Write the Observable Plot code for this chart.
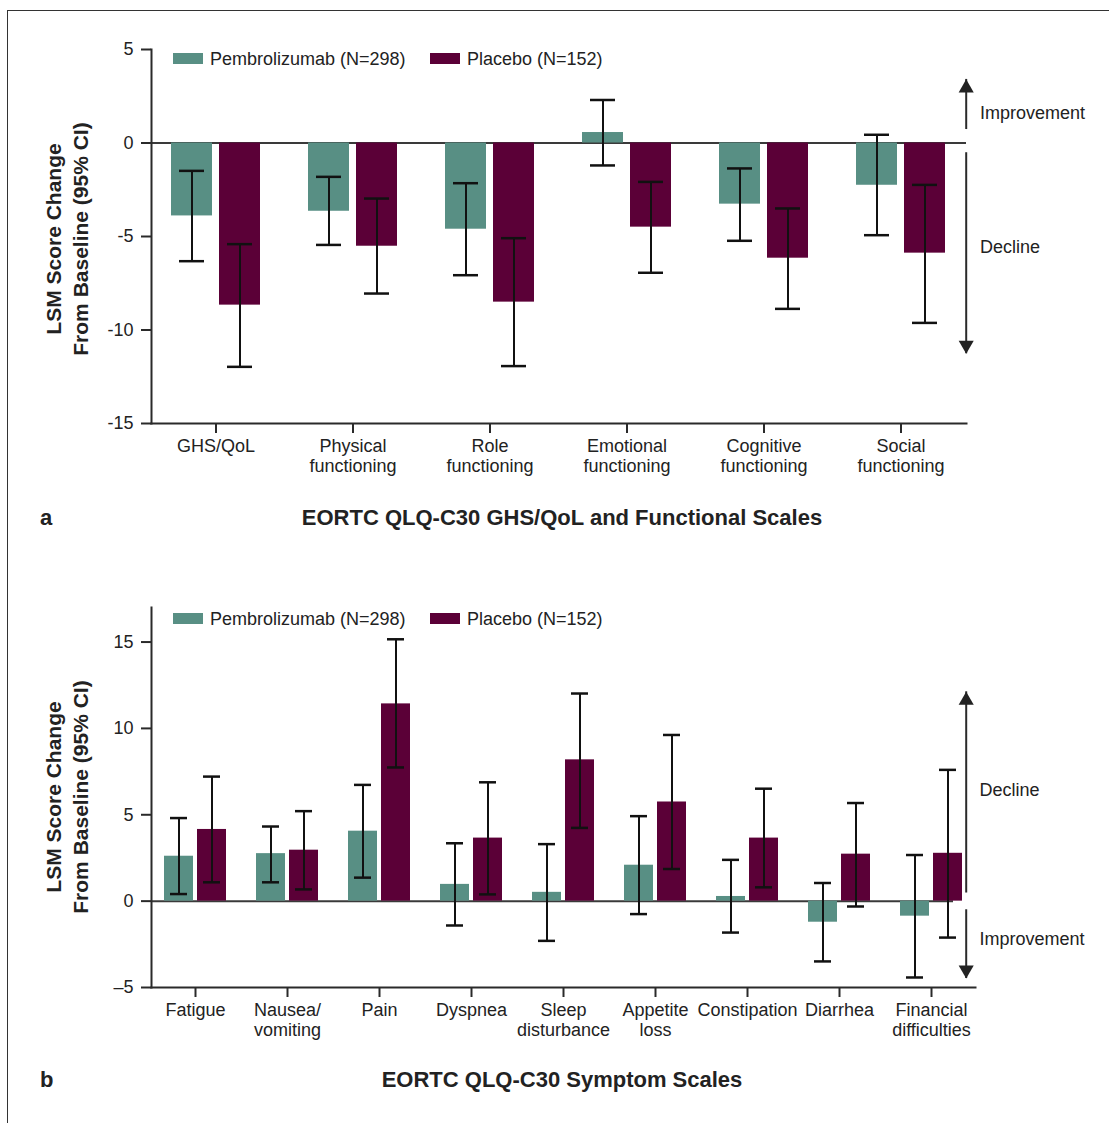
<!DOCTYPE html>
<html>
<head>
<meta charset="utf-8">
<script src="https://cdn.jsdelivr.net/npm/d3@7"></script>
<script src="https://cdn.jsdelivr.net/npm/@observablehq/plot@0.6"></script>
<style>
  html, body { margin: 0; padding: 0; background: #fff; }
  body { width: 1109px; height: 1123px; overflow: hidden; position: relative; font-family: "Liberation Sans", Arial, Helvetica, sans-serif; color: #222; }
  .abs { position: absolute; }
  .frame { left: 7px; top: 10px; width: 1200px; height: 1300px; border-left: 1.5px solid #333; border-top: 1.5px solid #333; }
  .sw { position: absolute; width: 30px; height: 11px; }
  .lg { position: absolute; font-size: 18px; line-height: 20px; white-space: nowrap; }
  .ylab { position: absolute; font-weight: bold; font-size: 21px; line-height: 27px; text-align: center; white-space: nowrap; transform: translate(-50%, -50%) rotate(-90deg); }
  .ttl { position: absolute; font-weight: bold; font-size: 22px; line-height: 24px; white-space: nowrap; }
</style>
</head>
<body>
<div class="abs frame"></div>
<div id="pa" class="abs" style="left:0;top:0"></div>
<div id="pb" class="abs" style="left:0;top:560px"></div>
<script>
// ---------- Data ----------
const seriesNames = ["Pembrolizumab (N=298)", "Placebo (N=152)"];
const colors = ["#588f84", "#5b0037"];

// Panel a: GHS/QoL and functional scales
const catsA = ["GHS/QoL", "Physical\nfunctioning", "Role\nfunctioning", "Emotional\nfunctioning", "Cognitive\nfunctioning", "Social\nfunctioning"];
const pembroA   = [-3.90, -3.65, -4.61, 0.56, -3.27, -2.26];
const pembroALo = [-6.32, -5.45, -7.07, -1.20, -5.23, -4.93];
const pembroAHi = [-1.49, -1.81, -2.15, 2.30, -1.36, 0.44];
const placeboA   = [-8.67, -5.52, -8.51, -4.50, -6.16, -5.89];
const placeboALo = [-11.97, -8.05, -11.93, -6.94, -8.87, -9.62];
const placeboAHi = [-5.41, -2.97, -5.09, -2.08, -3.50, -2.24];
const yTicksA = [-15, -10, -5, 0, 5];
const arrowFromA = [0.72, -0.52];
const arrowTipA = [3.40, -11.27];
const noteLabelsA = ["Improvement", "Decline"];
const noteYA = [1.58, -5.59];

// Panel b: symptom scales
const catsB = ["Fatigue", "Nausea/\nvomiting", "Pain", "Dyspnea", "Sleep\ndisturbance", "Appetite\nloss", "Constipation", "Diarrhea", "Financial\ndifficulties"];
const pembroB   = [2.60, 2.75, 4.05, 0.97, 0.51, 2.08, 0.27, -1.22, -0.87];
const pembroBLo = [0.41, 1.09, 1.36, -1.41, -2.30, -0.75, -1.82, -3.49, -4.42];
const pembroBHi = [4.81, 4.32, 6.73, 3.35, 3.30, 4.92, 2.39, 1.05, 2.67];
const placeboB   = [4.15, 2.95, 11.42, 3.65, 8.18, 5.74, 3.65, 2.72, 2.77];
const placeboBLo = [1.09, 0.68, 7.74, 0.39, 4.24, 1.86, 0.80, -0.31, -2.11];
const placeboBHi = [7.21, 5.21, 15.16, 6.88, 12.02, 9.62, 6.51, 5.68, 7.60];
const yTicksB = [-5, 0, 5, 10, 15];
const arrowFromB = [0.47, -0.50];
const arrowTipB = [12.12, -4.48];
const noteLabelsB = ["Decline", "Improvement"];
const noteYB = [6.40, -2.19];

const titles = ["EORTC QLQ-C30 GHS/QoL and Functional Scales", "EORTC QLQ-C30 Symptom Scales"];
const panelLetters = ["a", "b"];
const yLabelLines = ["LSM Score Change", "From Baseline (95% CI)"];

// ---------- Helpers ----------
function rows(cats, v, lo, hi) {
  return cats.map((c, i) => ({cat: c, v: v[i], lo: lo[i], hi: hi[i]}));
}

function panel(o) {
  const pem = rows(o.cats, o.pem, o.pemLo, o.pemHi);
  const pla = rows(o.cats, o.pla, o.plaLo, o.plaHi);
  const last = o.cats[o.cats.length - 1];
  const up = [0], down = [1];
  const ink = "#111";
  return Plot.plot({
    width: 1109,
    height: 490,
    marginTop: o.marginTop,
    marginBottom: o.marginBottom,
    marginLeft: 151,
    marginRight: o.marginRight,
    style: {fontFamily: '"Liberation Sans", Arial, Helvetica, sans-serif', fontSize: "18px", color: "#2a2a2a", background: "transparent", overflow: "visible"},
    x: {domain: o.cats, range: o.xRange, padding: 0, label: null},
    y: {domain: o.yDomain, label: null},
    marks: [
      Plot.ruleY([0], {stroke: "#3a3a3a", strokeWidth: 2, insetRight: o.zeroInsetRight}),
      Plot.barY(pem, {x: "cat", y1: 0, y2: "v", fill: colors[0], insetLeft: o.barIn[0], insetRight: o.barIn[1]}),
      Plot.barY(pla, {x: "cat", y1: 0, y2: "v", fill: colors[1], insetLeft: o.barIn[1], insetRight: o.barIn[0]}),
      Plot.ruleX(pem, {x: "cat", y1: "lo", y2: "hi", dx: -o.off, stroke: ink, strokeWidth: 2}),
      Plot.ruleX(pla, {x: "cat", y1: "lo", y2: "hi", dx: o.off, stroke: ink, strokeWidth: 2}),
      Plot.tickY(pem, {x: "cat", y: "lo", insetLeft: o.capIn[0], insetRight: o.capIn[1], stroke: ink, strokeWidth: 2.5}),
      Plot.tickY(pem, {x: "cat", y: "hi", insetLeft: o.capIn[0], insetRight: o.capIn[1], stroke: ink, strokeWidth: 2.5}),
      Plot.tickY(pla, {x: "cat", y: "lo", insetLeft: o.capIn[1], insetRight: o.capIn[0], stroke: ink, strokeWidth: 2.5}),
      Plot.tickY(pla, {x: "cat", y: "hi", insetLeft: o.capIn[1], insetRight: o.capIn[0], stroke: ink, strokeWidth: 2.5}),
      Plot.frame({anchor: "left", stroke: "#2a2a2a", strokeWidth: 2}),
      Plot.frame({anchor: "bottom", stroke: "#2a2a2a", strokeWidth: 2}),
      Plot.axisY({ticks: o.yTicks, tickSize: 10, tickPadding: 8, tickFormat: o.tickFormat, strokeWidth: 2, fill: "#222"}),
      Plot.axisX({tickSize: 10, tickPadding: 4, lineHeight: 1.12, strokeWidth: 2, fill: "#222"}),
      // direction arrows
      Plot.ruleX(up, {x: () => last, y1: i => o.arrowFrom[i], y2: i => o.arrowTip[i], dx: o.arrowDx, stroke: "#2a2a2a", strokeWidth: 2}),
      Plot.ruleX(down, {x: () => last, y1: i => o.arrowFrom[i], y2: i => o.arrowTip[i], dx: o.arrowDx, stroke: "#2a2a2a", strokeWidth: 2}),
      Plot.dot(up, {x: () => last, y: i => o.arrowTip[i], dx: o.arrowDx, dy: 8.66, symbol: "triangle", r: 5.6, fill: "#222", stroke: null}),
      Plot.dot(down, {x: () => last, y: i => o.arrowTip[i], dx: o.arrowDx, dy: -8.66, rotate: 180, symbol: "triangle", r: 5.6, fill: "#222", stroke: null}),
      Plot.text(o.noteLabels, {x: () => last, y: (d, i) => o.noteY[i], text: d => d, dx: o.noteDx, textAnchor: "start", fontSize: 18, fill: "#222"})
    ]
  });
}

document.getElementById("pa").append(panel({
  cats: catsA, pem: pembroA, pemLo: pembroALo, pemHi: pembroAHi,
  pla: placeboA, plaLo: placeboALo, plaHi: placeboAHi,
  yDomain: [-15, 5], yTicks: yTicksA, tickFormat: d => String(d),
  marginTop: 49, marginBottom: 67, marginRight: 143, xRange: [147, 969],
  barIn: [24, 72], capIn: [32, 80], off: 24, zeroInsetRight: 0,
  arrowFrom: arrowFromA, arrowTip: arrowTipA, arrowDx: 65.2,
  noteLabels: noteLabelsA, noteY: noteYA, noteDx: 79
}));

document.getElementById("pb").append(panel({
  cats: catsB, pem: pembroB, pemLo: pembroBLo, pemHi: pembroBHi,
  pla: placeboB, plaLo: placeboBLo, plaHi: placeboBHi,
  yDomain: [-5, 17], yTicks: yTicksB, tickFormat: d => (d < 0 ? "\u2013" + Math.abs(d) : String(d)),
  marginTop: 47, marginBottom: 63, marginRight: 134, xRange: [148, 977],
  barIn: [15, 48], capIn: [21, 54], off: 16.5, zeroInsetRight: 22,
  arrowFrom: arrowFromB, arrowTip: arrowTipB, arrowDx: 34.7,
  noteLabels: noteLabelsB, noteY: noteYB, noteDx: 48
}));

// ---------- HTML overlays: legends, y labels, titles ----------
function addLegend(top) {
  const lefts = [[173, 210], [430, 467]];
  seriesNames.forEach((name, i) => {
    const sw = document.createElement("div");
    sw.className = "sw";
    sw.style.left = lefts[i][0] + "px";
    sw.style.top = (top + 3.5) + "px";
    sw.style.background = colors[i];
    document.body.append(sw);
    const t = document.createElement("div");
    t.className = "lg";
    t.style.left = lefts[i][1] + "px";
    t.style.top = (top - 0.5) + "px";
    t.textContent = name;
    document.body.append(t);
  });
}
addLegend(49.5);
addLegend(609.5);

function addYLabel(cx, cy) {
  const d = document.createElement("div");
  d.className = "ylab";
  d.style.left = cx + "px";
  d.style.top = cy + "px";
  d.innerHTML = yLabelLines.join("<br>");
  document.body.append(d);
}
addYLabel(66.5, 239);
addYLabel(66.5, 797);

function addTitle(i, cy) {
  const l = document.createElement("div");
  l.className = "ttl";
  l.style.left = "40px";
  l.style.top = (cy - 12) + "px";
  l.textContent = panelLetters[i];
  document.body.append(l);
  const t = document.createElement("div");
  t.className = "ttl";
  t.style.left = "0px";
  t.style.width = "1124px";
  t.style.textAlign = "center";
  t.style.top = (cy - 12) + "px";
  t.textContent = titles[i];
  document.body.append(t);
}
addTitle(0, 518);
addTitle(1, 1080);
</script>
</body>
</html>
